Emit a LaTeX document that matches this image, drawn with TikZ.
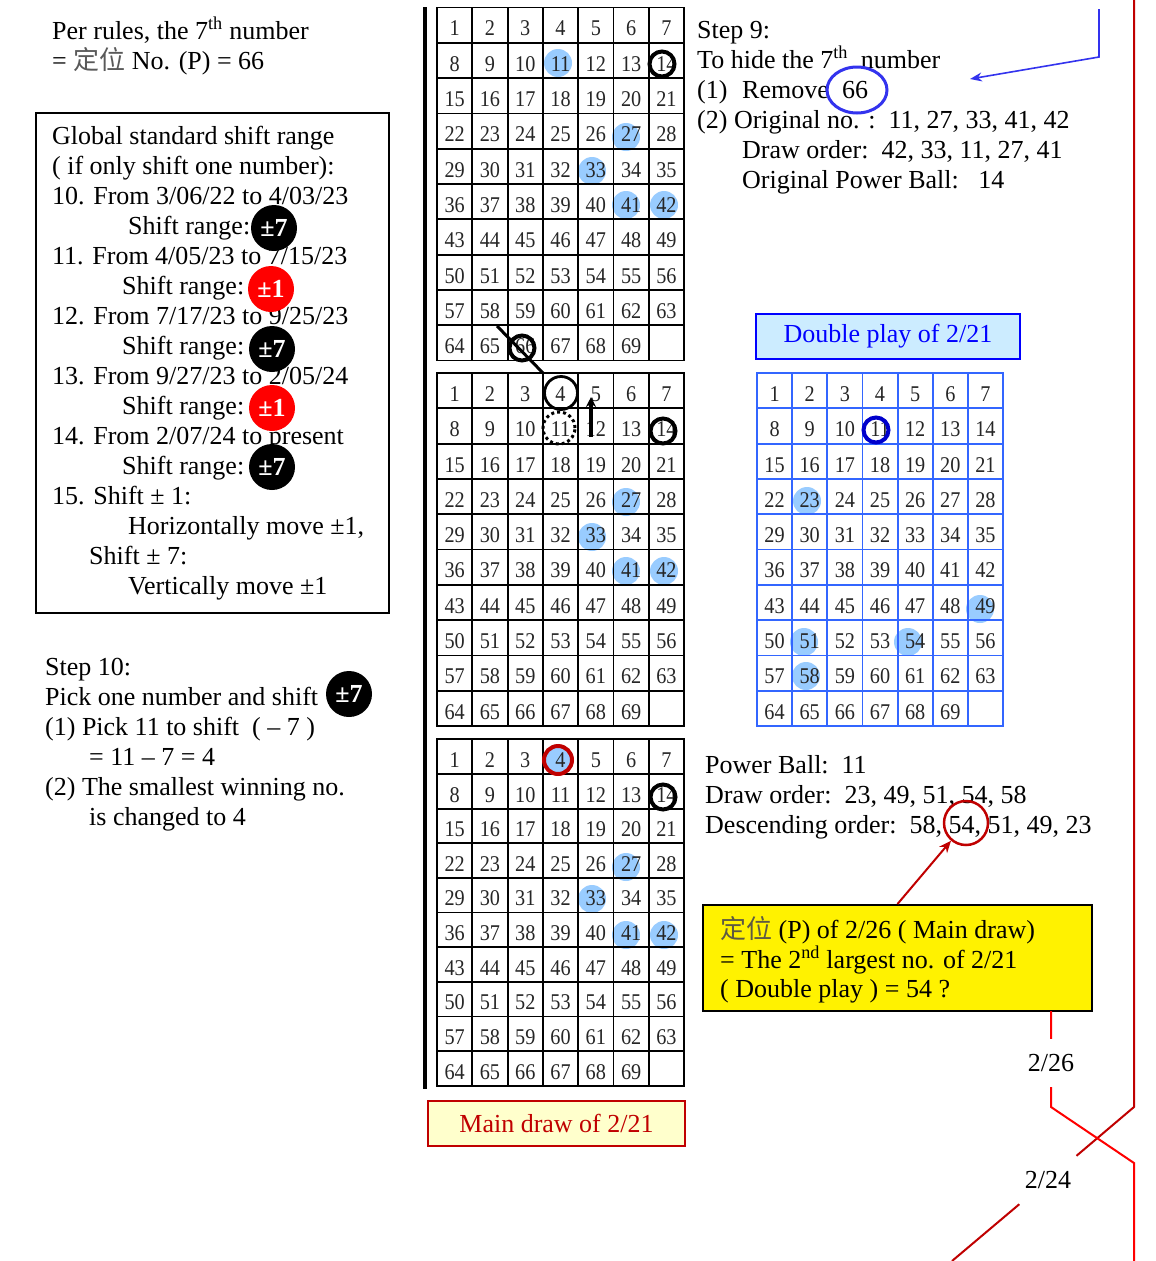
\documentclass[tikz,border=0pt]{standalone}
\usepackage{fontspec}
\setmainfont{Liberation Serif}
\newfontfamily\gridfont[FakeStretch=0.9]{Liberation Serif}
\newfontfamily\cjkfont{Noto Sans CJK SC}
\usetikzlibrary{arrows.meta}
\pgfdeclarelayer{bgl}
\pgfsetlayers{bgl,main}
\definecolor{hlblue}{RGB}{153,204,255}
\definecolor{dred}{RGB}{192,0,0}
\definecolor{lred}{RGB}{255,0,0}
\definecolor{gblue}{RGB}{51,102,255}
\definecolor{ablue}{RGB}{51,51,238}
\definecolor{dpfill}{RGB}{204,236,255}
\definecolor{mdfill}{RGB}{255,255,204}
\tikzset{
  txt/.style={anchor=base west, inner sep=0pt, font=\fontsize{26}{30}\selectfont},
  cell/.style={draw, line width=1.8pt, inner sep=0pt, text height=21.5pt, text depth=0pt, font=\gridfont\fontsize{22.5}{23}\selectfont, text=black!85},
  pmcirc/.style={circle, minimum size=46pt, inner sep=0pt, text=white, font=\bfseries\fontsize{26}{26}\selectfont},
  labelbox/.style={line width=2.5pt, inner sep=0pt, font=\fontsize{26}{30}\selectfont},
  redln/.style={line width=2pt},
}
\newcommand{\lottogrid}[6]{%
  \foreach \gr in {0,...,9}{\foreach \gc in {0,...,6}{%
    \pgfmathtruncatemacro{\cellno}{\gr*7+\gc+1}%
    \ifnum\cellno<70\relax
      \node[cell, draw=#6, minimum width=#4pt, minimum height=#5pt] (#1-\cellno) at ({#2+(\gc+0.5)*#4},{#3+(\gr+0.5)*#5}) {\cellno};%
    \else
      \node[cell, draw=#6, minimum width=#4pt, minimum height=#5pt] (#1-\cellno) at ({#2+(\gc+0.5)*#4},{#3+(\gr+0.5)*#5}) {};%
    \fi}}}
\begin{document}
\begin{tikzpicture}[x=1pt,y=-1pt]
\useasboundingbox (0,0) rectangle (1156,1261);
\begin{pgfonlayer}{bgl}
  \fill[white] (0,0) rectangle (1156,1261);
  % highlights grid 1
  \foreach \p in {(558,63),(626,137),(592,171),(626,205),(664,205)} \fill[hlblue] \p circle (14pt);
  % grid 2
  \foreach \p in {(626,502),(592,537),(626,571),(664,571)} \fill[hlblue] \p circle (14pt);
  % grid 3
  \foreach \p in {(558,760),(626,867),(592,899),(626,935),(664,935)} \fill[hlblue] \p circle (14pt);
  % grid 4
  \foreach \p in {(807,501),(980,609),(804,642),(908,642),(806,676)} \fill[hlblue] \p circle (14pt);
\end{pgfonlayer}

% left black bar
\draw[line width=4.5pt] (425,7) -- (425,1089);

% grids
\lottogrid{ga}{437}{7.5}{35.3}{35.3}{black}
\lottogrid{gb}{437}{373}{35.3}{35.3}{black}
\lottogrid{gc}{437}{739.3}{35.3}{34.65}{black}
\lottogrid{gd}{757}{373}{35.15}{35.3}{gblue}

% rings grid 1
\draw[line width=4pt] (662,64) circle (12.5pt);
\draw[line width=4pt] (522,348) circle (12.5pt);
\draw[line width=3pt] (497,326) -- (543,373);
% grid 2
\draw[line width=2.8pt] (561,393) circle (16.5pt);
\draw[line width=3pt, dash pattern=on 3pt off 3pt] (559,428) circle (16pt);
\coordinate (arA) at (591,437);
\coordinate (arB) at (591,397);
\draw[line width=3.3pt, -{Stealth[length=10pt,width=10pt]}] (arA) -- (arB);
\draw[line width=4pt] (663,431) circle (12.5pt);
% grid 3
\draw[line width=4pt, dred] (558,760) circle (14pt);
\draw[line width=4pt] (663,797) circle (12.5pt);
% grid 4
\draw[line width=4pt, blue!80!black] (876,430) circle (12.5pt);

% top-left text
\node[txt] (pr1) at (52,39) {Per rules, the 7\textsuperscript{th} number};
\node[txt] (pr2) at (52,69) {= {\cjkfont\color{black!65}定位} No. (P) = 66};

% global box
\node[draw, line width=2pt, minimum width=353pt, minimum height=500pt, inner sep=0pt] (gbox) at (212.5,363) {};
\node[txt] (g1) at (52,144) {Global standard shift range};
\node[txt] (g2) at (52,174) {( if only shift one number):};
\node[txt] (g3) at (52,204) {10. From 3/06/22 to 4/03/23};
\node[txt] (g4) at (128,234) {Shift range:};
\node[txt] (g5) at (52,264) {11. From 4/05/23 to 7/15/23};
\node[txt] (g6) at (122,294) {Shift range:};
\node[txt] (g7) at (52,324) {12. From 7/17/23 to 9/25/23};
\node[txt] (g8) at (122,354) {Shift range:};
\node[txt] (g9) at (52,384) {13. From 9/27/23 to 2/05/24};
\node[txt] (g10) at (122,414) {Shift range:};
\node[txt] (g11) at (52,444) {14. From 2/07/24 to present};
\node[txt] (g12) at (122,474) {Shift range:};
\node[txt] (g13) at (52,504) {15. Shift ± 1:};
\node[txt] (g14) at (128,534) {Horizontally move ±1,};
\node[txt] (g15) at (89,564) {Shift ± 7:};
\node[txt] (g16) at (128,594) {Vertically move ±1};
\node[pmcirc, fill=black] (c1) at (274,228) {±7};
\node[pmcirc, fill=red] (c2) at (271,289) {±1};
\node[pmcirc, fill=black] (c3) at (272,349) {±7};
\node[pmcirc, fill=red] (c4) at (272,408) {±1};
\node[pmcirc, fill=black] (c5) at (272,467) {±7};

% step 10
\node[txt] (s1) at (45,675) {Step 10:};
\node[txt] (s2) at (45,705) {Pick one number and shift};
\node[pmcirc, fill=black] (c6) at (349,694) {±7};
\node[txt] (s3) at (45,735) {(1) Pick 11 to shift\ \ ( -- 7 )};
\node[txt] (s4) at (89,765) {= 11 -- 7 = 4};
\node[txt] (s5) at (45,795) {(2) The smallest winning no.};
\node[txt] (s6) at (89,825) {is changed to 4};

% step 9
\node[txt] (r1) at (697,38) {Step 9:};
\node[txt] (r2) at (697,68) {To hide the 7\textsuperscript{th}\ \ number};
\node[txt] (r3) at (697,98) {(1)};
\node[txt] (r3b) at (742,98) {Remove};
\node[txt] (r3c) at (842,98) {66};
\draw[ablue, line width=3pt] (857,90) ellipse [x radius=30pt, y radius=23pt];
\node[txt] (r4) at (697,128) {(2) Original no. :\ \ 11, 27, 33, 41, 42};
\node[txt] (r5) at (742,158) {Draw order:\ \ 42, 33, 11, 27, 41};
\node[txt] (r6) at (742,188) {Original Power Ball:\ \ \ 14};
\coordinate (ba1) at (1099,9);
\coordinate (ba2) at (1099,57);
\coordinate (ba3) at (970,79);
\draw[ablue, line width=1.6pt, -{Stealth[length=12pt,width=9pt]}] (ba1) -- (ba2) -- (ba3);

% label boxes
\node[labelbox, draw=blue, fill=dpfill, text=blue, minimum width=264pt, minimum height=45pt] (dp) at (888,336.5) {Double play of 2/21};
\node[labelbox, draw=dred, fill=mdfill, text=dred, minimum width=257pt, minimum height=45pt] (md) at (556.5,1123.5) {Main draw of 2/21};

% bottom right text
\node[txt] (b1) at (705,773) {Power Ball:\ \ 11};
\node[txt] (b2) at (705,803) {Draw order:\ \ 23, 49, 51, 54, 58};
\node[txt] (b3) at (705,833) {Descending order:\ \ 58, 54, 51, 49, 23};
\node[circle, draw=dred, line width=2.5pt, minimum size=44pt, inner sep=0pt] (c54) at (966,823) {};

% yellow box
\node[draw, line width=2pt, fill=yellow, minimum width=389pt, minimum height=106pt, inner sep=0pt] (ybox) at (897.5,958) {};
\node[txt] (y1) at (720,938) {{\cjkfont\color{black!55!yellow!60!black}定位} (P) of 2/26 ( Main draw)};
\node[txt] (y2) at (720,968) {= The 2\textsuperscript{nd} largest no. of 2/21};
\node[txt] (y3) at (720,997) {( Double play ) = 54 ?};
\draw[dred, line width=2pt, -{Stealth[length=12pt,width=10pt]}] (ybox.north) -- (c54);

% red lines
\node[inner sep=0pt, minimum width=60pt, minimum height=48pt, font=\fontsize{26}{30}\selectfont] (d226) at (1051,1063) {2/26};
\node[inner sep=0pt, minimum width=60pt, minimum height=48pt, font=\fontsize{26}{30}\selectfont] (d224) at (1048,1180) {2/24};
\coordinate (l1a) at (1134,0);
\coordinate (l1b) at (1134,1107);
\coordinate (l1c) at (952,1261);
\coordinate (l2a) at (1051,1011);
\coordinate (l2b) at (1051,1107);
\coordinate (l2c) at (1134,1163);
\coordinate (l2d) at (1134,1261);
\draw[redln, draw=dred] (l1a) -- (l1b) -- (d224) -- (l1c);
\draw[redln, draw=lred] (l2a) -- (d226) -- (l2b) -- (l2c) -- (l2d);
\end{tikzpicture}
\end{document}
